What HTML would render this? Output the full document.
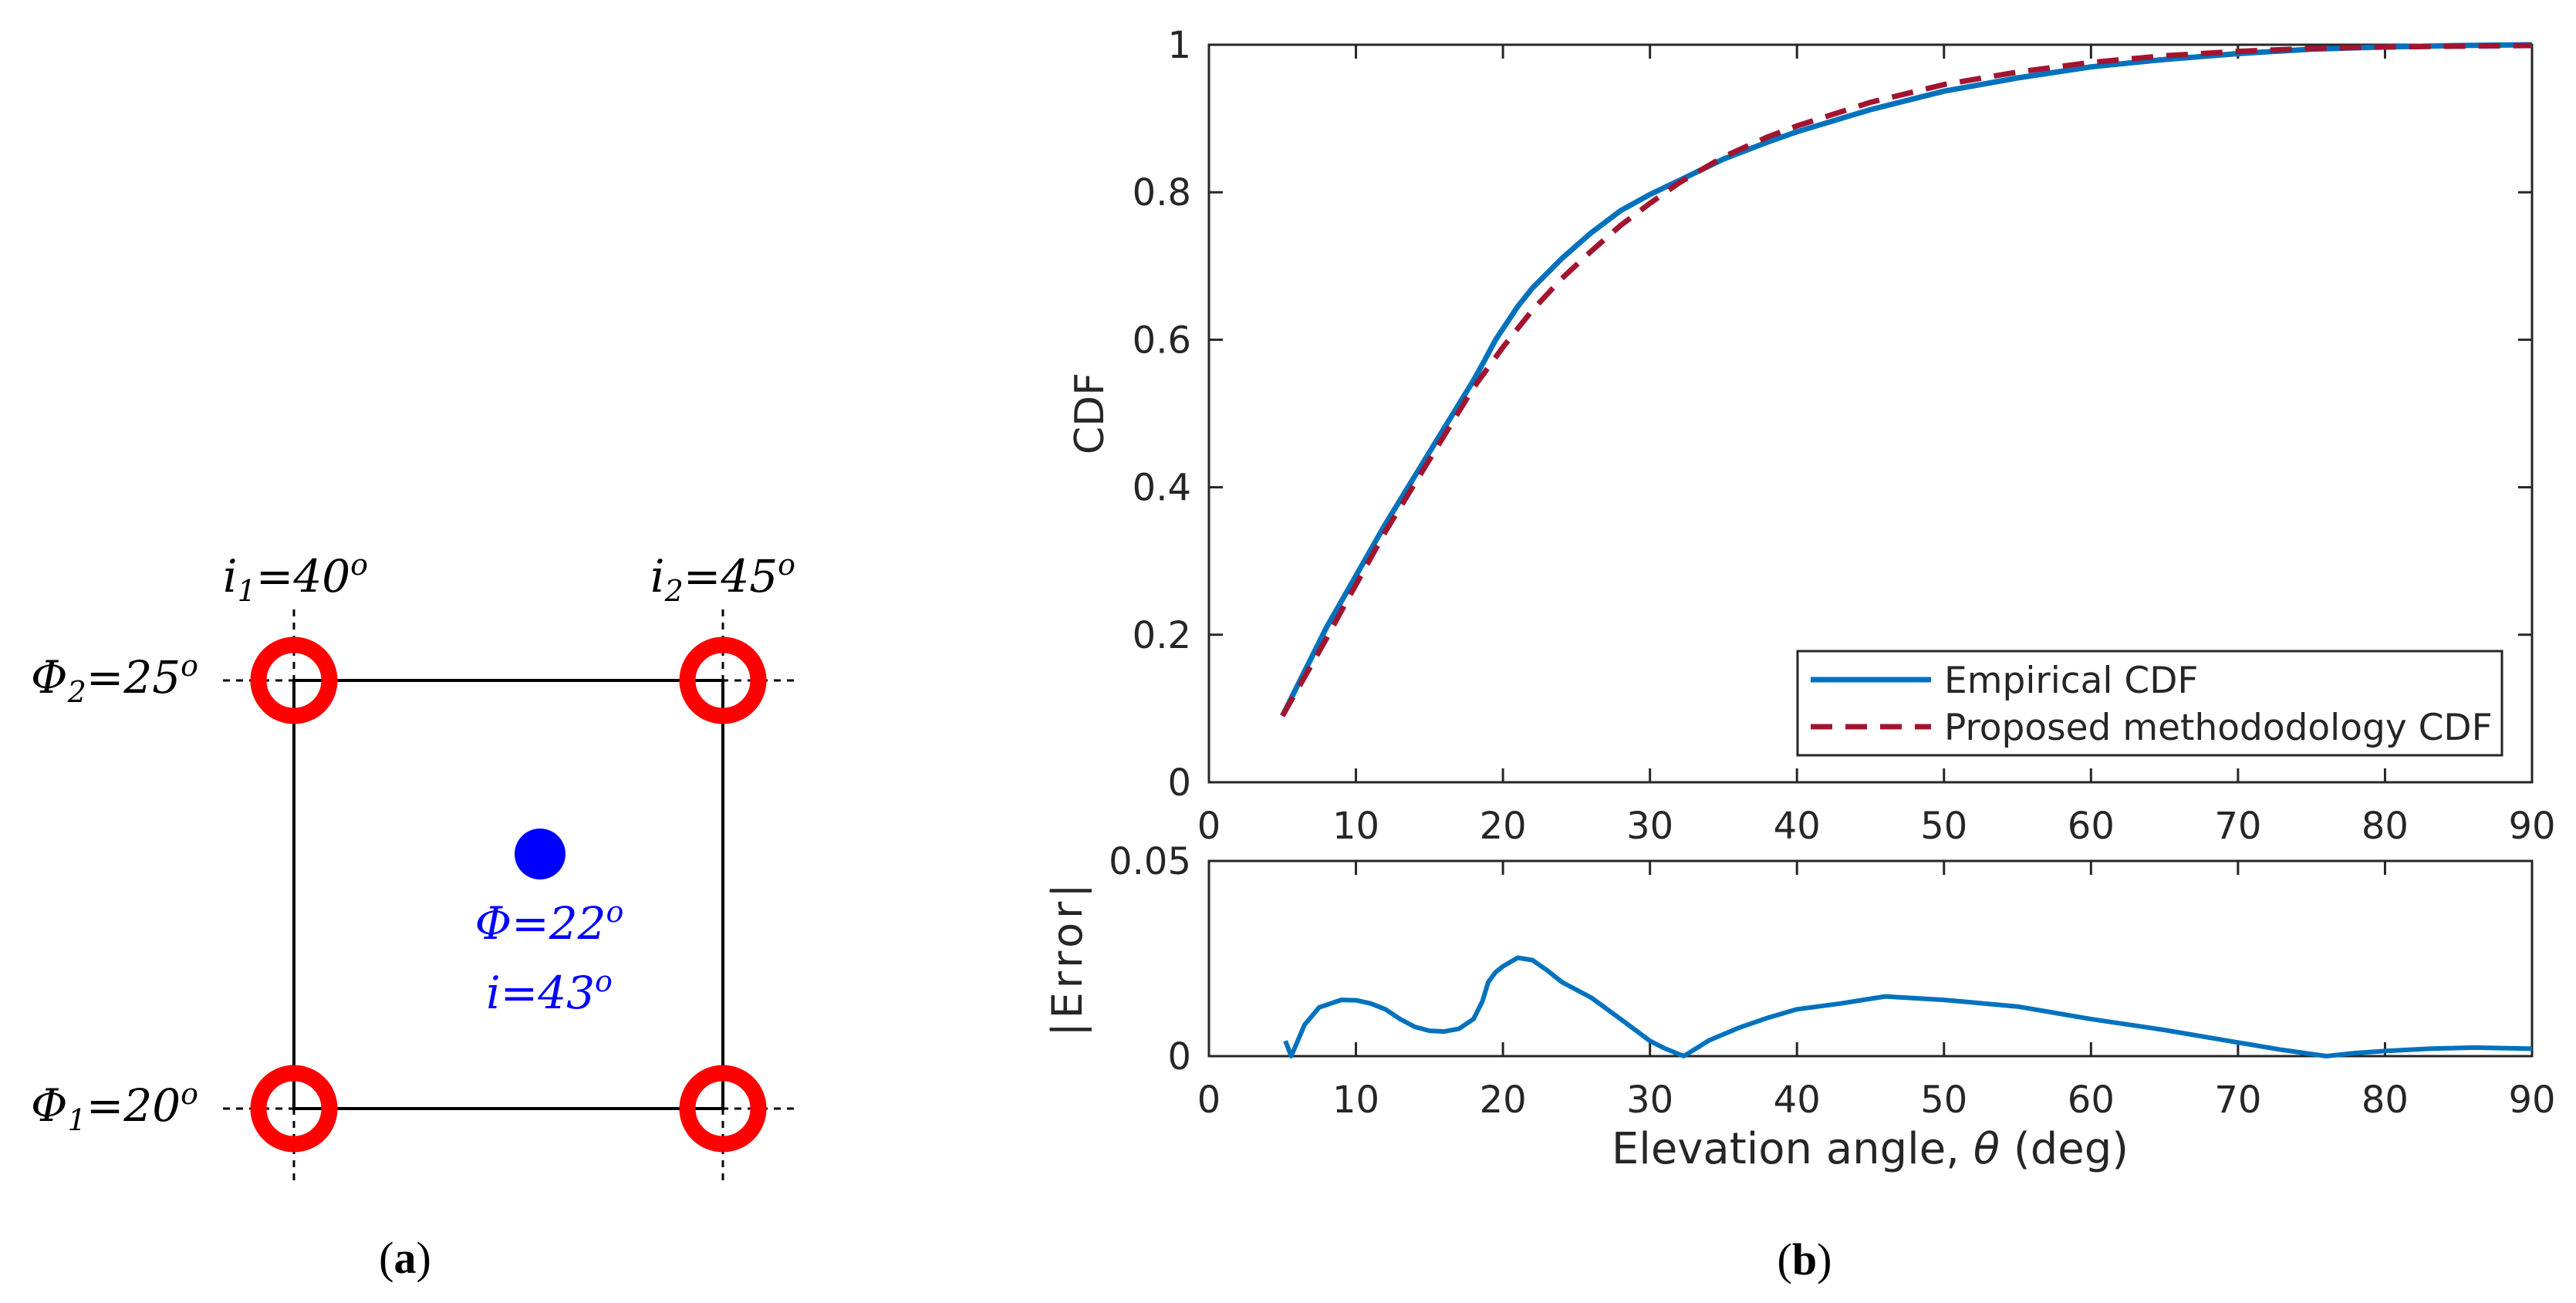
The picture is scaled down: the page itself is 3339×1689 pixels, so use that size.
<!DOCTYPE html>
<html><head><meta charset="utf-8"><style>
html,body{margin:0;padding:0;background:#fff;}
svg{display:block;}
text{font-family:"DejaVu Sans","Liberation Sans",sans-serif;fill:#262626;}
.serif{font-family:"DejaVu Serif","Liberation Serif",serif;font-style:italic;fill:#000;}
</style></head><body>
<svg id="fig" width="3339" height="1689" viewBox="0 0 3339 1689" xmlns="http://www.w3.org/2000/svg">
<g id="diagram">
  <g stroke="#000" stroke-width="3" stroke-dasharray="9,8">
    <line x1="289" y1="882" x2="1030" y2="882"/>
    <line x1="289" y1="1437" x2="1030" y2="1437"/>
    <line x1="381" y1="790" x2="381" y2="1530"/>
    <line x1="937" y1="790" x2="937" y2="1530"/>
  </g>
  <rect x="381" y="882" width="556" height="555" fill="none" stroke="#000" stroke-width="4"/>
  <g fill="none" stroke="#f00" stroke-width="21">
    <circle cx="381" cy="882" r="46"/>
    <circle cx="937" cy="882" r="46"/>
    <circle cx="381" cy="1437" r="46"/>
    <circle cx="937" cy="1437" r="46"/>
  </g>
  <circle cx="700" cy="1107" r="33" fill="#00f"/>
  <text class="serif" x="289" y="767" font-size="58">i<tspan font-size="38" dy="12">1</tspan><tspan dy="-12">=40</tspan><tspan font-size="38" dy="-22">o</tspan></text>
  <text class="serif" x="843" y="767" font-size="58">i<tspan font-size="38" dy="12">2</tspan><tspan dy="-12">=45</tspan><tspan font-size="38" dy="-22">o</tspan></text>
  <text class="serif" x="40" y="898" font-size="58">Φ<tspan font-size="38" dy="12">2</tspan><tspan dy="-12">=25</tspan><tspan font-size="38" dy="-22">o</tspan></text>
  <text class="serif" x="40" y="1453" font-size="58">Φ<tspan font-size="38" dy="12">1</tspan><tspan dy="-12">=20</tspan><tspan font-size="38" dy="-22">o</tspan></text>
  <text class="serif" x="712" y="1217" font-size="58" text-anchor="middle" style="fill:#00f">Φ=22<tspan font-size="38" dy="-22">o</tspan></text>
  <text class="serif" x="712" y="1307" font-size="58" text-anchor="middle" style="fill:#00f">i=43<tspan font-size="38" dy="-22">o</tspan></text>
  <text x="525" y="1650" font-size="58" text-anchor="middle" style="font-family:'Liberation Serif',serif;fill:#000">(<tspan font-weight="bold">a</tspan>)</text>
</g>
<text x="2339" y="1652" font-size="58" text-anchor="middle" style="font-family:'Liberation Serif',serif;fill:#000">(<tspan font-weight="bold">b</tspan>)</text>
<g id="topplot"></g>
<g id="botplot"></g>
</svg>
<script>
const xTicks=[0,10,20,30,40,50,60,70,80,90];
const cdfTicks=[0,0.2,0.4,0.6,0.8,1];
const cdfTickLabels=["0","0.2","0.4","0.6","0.8","1"];
const errTicks=[0,0.05];
const errTickLabels=["0","0.05"];
const empX=[5,6,7,8,9,10,12,14,16,18,18.7,19.5,20,21,22,24,26,28,30,32,35,38,40,45,50,55,60,65,70,75,80,85,90];
const empY=[0.09,0.13,0.17,0.21,0.245,0.28,0.35,0.415,0.48,0.545,0.57,0.6,0.615,0.645,0.67,0.71,0.745,0.775,0.797,0.816,0.845,0.868,0.882,0.912,0.937,0.955,0.97,0.98,0.988,0.994,0.997,0.999,1.0];
const propX=[5,6,7,8,9,10,12,14,16,18,20,22,24,26,28,30,32,35,38,40,45,50,55,60,65,70,75,80,85,90];
const propY=[0.09,0.125,0.16,0.195,0.232,0.268,0.34,0.405,0.47,0.535,0.59,0.64,0.683,0.72,0.755,0.785,0.813,0.848,0.875,0.89,0.922,0.946,0.963,0.976,0.985,0.991,0.995,0.997,0.998,0.999];
const errX=[5.2,5.6,6.5,7.5,9,10,11,12,13,14,15,16,17,18,18.6,19,19.5,20,21,22,23,24,26,28,30,31,32.3,34,36,38,40,43,46,50,55,60,65,70,73,76,78,80,83,86,90];
const errY=[0.0039,0,0.008,0.0125,0.0144,0.0143,0.0135,0.012,0.0095,0.0075,0.0065,0.0063,0.007,0.0095,0.014,0.019,0.0215,0.023,0.0252,0.0246,0.022,0.019,0.015,0.0095,0.0039,0.002,0,0.004,0.0072,0.0098,0.012,0.0135,0.0153,0.0144,0.0127,0.0095,0.0067,0.0035,0.0016,0,0.0008,0.0013,0.0019,0.0022,0.0019];

const NS="http://www.w3.org/2000/svg";
function mk(parent,tag,attrs){const e=document.createElementNS(NS,tag);for(const k in attrs)e.setAttribute(k,attrs[k]);parent.appendChild(e);return e;}
const X0=1567,X1=3282;
const sx=v=>X0+(v-0)/90*(X1-X0);
function axes(g,Y0,Y1,ymax,yt,ytl,nm){
  const sy=v=>Y1-(v/ymax)*(Y1-Y0);
  const box=mk(g,'rect',{x:X0,y:Y0,width:X1-X0,height:Y1-Y0,fill:'none',stroke:'#262626','stroke-width':3});
  
  
  xTicks.forEach(t=>{
    const x=sx(t);
    const l1=mk(g,'line',{x1:x,y1:Y1,x2:x,y2:Y1-18,stroke:'#262626','stroke-width':3});
    
    
    const l2=mk(g,'line',{x1:x,y1:Y0,x2:x,y2:Y0+18,stroke:'#262626','stroke-width':3});
    
    
    const tx=mk(g,'text',{x:x,y:Y1+73,'font-size':48,'text-anchor':'middle'});
    tx.textContent=String(t);
    
    
  });
  yt.forEach((t,i)=>{
    const y=sy(t);
    const l1=mk(g,'line',{x1:X0,y1:y,x2:X0+18,y2:y,stroke:'#262626','stroke-width':3});
    
    
    const l2=mk(g,'line',{x1:X1,y1:y,x2:X1-18,y2:y,stroke:'#262626','stroke-width':3});
    
    
    const tx=mk(g,'text',{x:X0-23,y:y+17,'font-size':48,'text-anchor':'end'});
    tx.textContent=ytl[i];
    
    
  });
  return sy;
}
function drawLine(g,xs,ys,sy,attrs){
  const d=xs.map((x,i)=>(i?'L':'M')+sx(x).toFixed(1)+','+sy(ys[i]).toFixed(1)).join(' ');
  return mk(g,'path',Object.assign({d:d,fill:'none','stroke-linejoin':'round'},attrs));
}
const topG=document.getElementById('topplot');
const syT=axes(topG,58,1014,1,cdfTicks,cdfTickLabels,'cdf');
const pe=drawLine(topG,empX,empY,syT,{stroke:'#0072BD','stroke-width':7});


const pp=drawLine(topG,propX,propY,syT,{stroke:'#A2142F','stroke-width':7,'stroke-dasharray':'28,17'});


const yl=mk(topG,'text',{x:0,y:0,'font-size':52,'text-anchor':'middle',transform:'translate(1430,536) rotate(-90)'});
yl.textContent='CDF';


const lg=mk(topG,'g',{});


mk(lg,'rect',{x:2330,y:844,width:913,height:135,fill:'#fff',stroke:'#262626','stroke-width':3});
const l1=mk(lg,'line',{x1:2347,y1:881,x2:2503,y2:881,stroke:'#0072BD','stroke-width':7});


const t1=mk(lg,'text',{x:2520,y:898,'font-size':47});
t1.textContent='Empirical CDF';


const l2=mk(lg,'line',{x1:2347,y1:942,x2:2503,y2:942,stroke:'#A2142F','stroke-width':7,'stroke-dasharray':'28,17'});


const t2=mk(lg,'text',{x:2520,y:959,'font-size':47});
t2.textContent='Proposed methododology CDF';



const botG=document.getElementById('botplot');
const syB=axes(botG,1116,1369,0.05,errTicks,errTickLabels,'error');
const perr=drawLine(botG,errX,errY,syB,{stroke:'#0072BD','stroke-width':6});


const yl2=mk(botG,'text',{x:0,y:0,'font-size':54,'letter-spacing':5,'text-anchor':'middle',transform:'translate(1402,1242) rotate(-90)'});
yl2.textContent='|Error|';


const xl=mk(botG,'text',{x:2424,y:1508,'font-size':56,'text-anchor':'middle'});
xl.innerHTML='Elevation angle, <tspan font-style="italic">θ</tspan> (deg)';


</script>
</body></html>
